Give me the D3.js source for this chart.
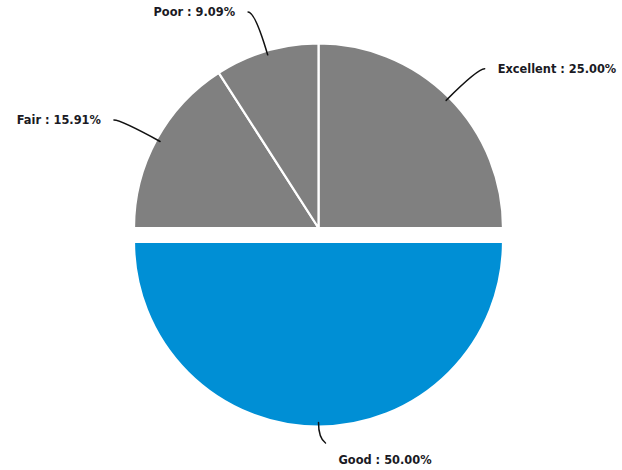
<!DOCTYPE html>
<html>
<head>
<meta charset="utf-8">
<script src="https://cdn.jsdelivr.net/npm/d3@7"></script>
<style>
  html, body { margin: 0; padding: 0; background: #fff; }
  svg { display: block; }
</style>
</head>
<body>
<div id="chart"></div>
<script>
// Survey ratings, share of responses (%)
const categories = ["Excellent", "Good", "Fair", "Poor"];
const shares = [25.00, 50.00, 15.91, 9.09];
const highlighted = ["Good"];

const W = 622, H = 470;
const cx = 318.5, cy = 228, R = 184.5;
const explodeBy = 14;
const grey = "#808080", blue = "#008fd5";

const svg = d3.select("#chart").append("svg")
  .attr("width", W).attr("height", H);

const data = categories.map((c, i) => ({ name: c, value: shares[i] }));

const pie = d3.pie().value(d => d.value).sort(null);
const arcs = pie(data);
const arc = d3.arc().innerRadius(0).outerRadius(R);

const g = svg.append("g").attr("transform", `translate(${cx},${cy})`);

function offsetOf(a) {
  if (!highlighted.includes(a.data.name)) return [0, 0];
  const m = (a.startAngle + a.endAngle) / 2;
  return [Math.sin(m) * explodeBy, -Math.cos(m) * explodeBy];
}

// slices
g.selectAll("path.slice").data(arcs).join("path")
  .attr("class", "slice")
  .attr("d", arc)
  .attr("transform", d => { const o = offsetOf(d); return `translate(${o[0]},${o[1]})`; })
  .attr("fill", d => highlighted.includes(d.data.name) ? blue : grey)
  .attr("stroke", "#fff")
  .attr("stroke-width", 2.2)
  .attr("stroke-linejoin", "round");

// leader lines and labels
const innerArc = d3.arc().innerRadius(R - 4).outerRadius(R - 4);
const outerArc = d3.arc().innerRadius(R * 1.22).outerRadius(R * 1.22);
const maxLabelY = H - 10 - cy;

arcs.forEach(a => {
  const o = offsetOf(a);
  const m = (a.startAngle + a.endAngle) / 2;
  const s = Math.sin(m);
  const dir = (Math.abs(s) < 1e-6 || s > 0) ? 1 : -1;
  const p0 = innerArc.centroid(a); p0[0] += o[0]; p0[1] += o[1];
  const p1 = outerArc.centroid(a); p1[0] += o[0]; p1[1] += o[1];
  let textY = p1[1];
  let clamped = false;
  if (p1[1] > maxLabelY) {
    // label would leave the canvas: pull it up and hang the text below the line
    clamped = true;
    textY = maxLabelY;
    p1[1] = maxLabelY - 22;
  }
  const p2 = [p1[0] + dir * 7, p1[1] + (clamped ? 5 : 0)];
  const textX = p2[0] + dir * 13;

  const path = d3.path();
  path.moveTo(p0[0], p0[1]);
  path.quadraticCurveTo(p1[0], p1[1], p2[0], p2[1]);
  g.append("path")
    .attr("d", path.toString())
    .attr("fill", "none")
    .attr("stroke", "#111")
    .attr("stroke-width", 1.5)
    .attr("stroke-linecap", "round");

  g.append("text")
    .attr("x", textX)
    .attr("y", textY)
    .attr("dy", "0.35em")
    .attr("text-anchor", dir > 0 ? "start" : "end")
    .attr("font-family", "'DejaVu Sans', sans-serif")
    .attr("font-weight", "bold")
    .attr("font-size", 11.4)
    .attr("fill", "#1a1a24")
    .text(`${a.data.name} : ${d3.format(".2f")(a.data.value)}%`);
});
</script>
</body>
</html>
